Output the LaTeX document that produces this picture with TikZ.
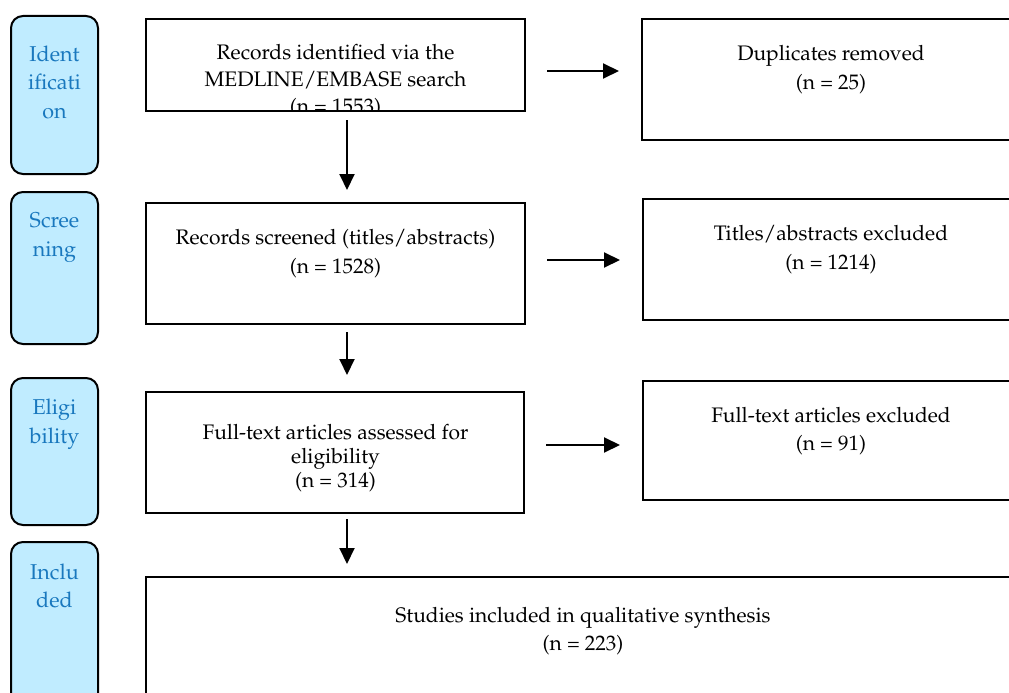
\documentclass[tikz,border=0pt]{standalone}
\usepackage[T1]{fontenc}
\usepackage{mathpazo}
\usetikzlibrary{arrows.meta}
\definecolor{stagefill}{RGB}{192,236,255}
\definecolor{stagetext}{RGB}{25,120,190}
\tikzset{
  box/.style={draw=black, line width=2pt, fill=white, inner sep=0pt},
  stage/.style={draw=black, line width=2pt, fill=stagefill, rounded corners=12pt, inner sep=0pt},
  txt/.style={align=center, inner sep=0pt, font=\fontsize{21}{#1}\selectfont},
  txt/.default=29,
  stagetxt/.style={align=center, inner sep=0pt, text=stagetext, font=\fontsize{21.5}{28.5}\selectfont},
  arr/.style={line width=2pt, -{Triangle[length=16pt,width=15pt]}},
}
\begin{document}
\begin{tikzpicture}[x=1pt,y=-1pt]
\useasboundingbox (0,0) rectangle (1009,693);
% stage boxes
\node[stage, minimum width=87pt, minimum height=158pt] (s1) at (54.5,95) {};
\node[stage, minimum width=87pt, minimum height=152pt] (s2) at (54.5,268) {};
\node[stage, minimum width=87pt, minimum height=147pt] (s3) at (54.5,451.5) {};
\node[stage, minimum width=87pt, minimum height=168pt] (s4) at (54.5,626) {};
\node[stagetxt] (s1t) at (54.5,82) {Ident\\ificati\\on};
\node[stagetxt] (s2t) at (54.5,237.5) {Scree\\ning};
\node[stagetxt] (s3t) at (54.5,424) {Eligi\\bility};
\node[stagetxt] (s4t) at (54.5,586) {Inclu\\ded};
% main boxes
\node[box, minimum width=379pt, minimum height=92pt] (b1) at (335.5,65) {};
\node[box, minimum width=378pt, minimum height=121pt] (dup) at (831,79.5) {};
\node[box, minimum width=379pt, minimum height=121pt] (b2) at (335.5,263.5) {};
\node[box, minimum width=377pt, minimum height=121pt] (tex) at (831.5,259.5) {};
\node[box, minimum width=378pt, minimum height=121pt] (b3) at (335,452.5) {};
\node[box, minimum width=377pt, minimum height=119pt] (fex) at (831.5,440.5) {};
\node[box, minimum width=874pt, minimum height=133pt] (b4) at (583,643.5) {};
% texts
\begin{scope}
\clip (146,19) rectangle (525,110);
\node[txt=27] (b1t) at (335.5,81.5) {Records identified via the\\MEDLINE/EMBASE search\\(n = 1553)};
\end{scope}
\node[txt] (dupt) at (831,70) {Duplicates removed\\(n = 25)};
\node[txt] (b2t) at (335.5,254) {Records screened (titles/abstracts)\\(n = 1528)};
\node[txt] (text) at (831,250) {Titles/abstracts excluded\\(n = 1214)};
\node[txt=24] (b3t) at (335.5,458) {Full-text articles assessed for\\eligibility\\(n = 314)};
\node[txt=28] (fext) at (831,431) {Full-text articles excluded\\(n = 91)};
\node[txt=28] (b4t) at (583,631) {Studies included in qualitative synthesis\\(n = 223)};
% arrows
\coordinate (r1) at (0,71);
\coordinate (r2) at (0,260);
\coordinate (r3) at (0,445);
\coordinate (ax) at (347,0);
\draw[arr, shorten <=21pt, shorten >=22pt] (b1.east |- r1) -- (dup.west |- r1);
\draw[arr, shorten <=21pt, shorten >=22pt] (b2.east |- r2) -- (tex.west |- r2);
\draw[arr, shorten <=21pt, shorten >=22pt] (b3.east |- r3) -- (fex.west |- r3);
\draw[arr, shorten <=8pt, shorten >=12pt] (b1.south -| ax) -- (b2.north -| ax);
\draw[arr, shorten <=7pt, shorten >=16pt] (b2.south -| ax) -- (b3.north -| ax);
\draw[arr, shorten <=5pt, shorten >=12pt] (b3.south -| ax) -- (b4.north -| ax);
\end{tikzpicture}
\end{document}
